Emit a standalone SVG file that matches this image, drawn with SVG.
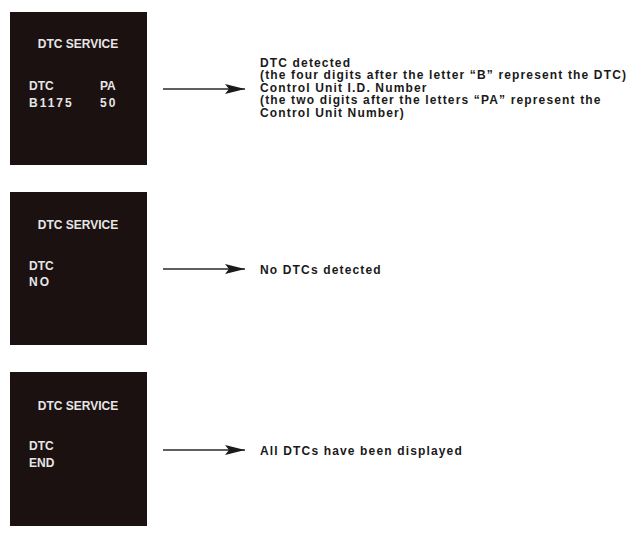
<svg xmlns="http://www.w3.org/2000/svg" width="633" height="547" viewBox="0 0 633 547">
<defs>
<style>
.box{fill:#1b1111}
.bt{font-family:"Liberation Sans",Arial,sans-serif;font-weight:bold;font-size:12px;fill:#e6e6e6}
.sp{letter-spacing:2px}
.lbl{font-family:"Liberation Sans",Arial,sans-serif;font-weight:bold;font-size:12px;letter-spacing:1.15px;fill:#1a1a1a}
.conn{stroke:#2a2a2a;stroke-width:1.5;fill:none}
</style>
<marker id="ah" viewBox="0 0 20 10" refX="20" refY="5" markerWidth="20" markerHeight="10" markerUnits="userSpaceOnUse" orient="auto">
<path d="M0,0 L20,5 L0,10 L4,5 Z" fill="#1a1a1a"/>
</marker>
</defs>
<rect width="633" height="547" fill="#ffffff"/>
<g id="screen1">
<rect class="box" x="10" y="12" width="137" height="153"/>
<text class="bt" x="78" y="48" text-anchor="middle">DTC SERVICE</text>
<text class="bt" x="29" y="90">DTC</text>
<text class="bt" x="100" y="90">PA</text>
<text class="bt sp" x="29" y="107">B1175</text>
<text class="bt sp" x="100" y="107">50</text>
</g>
<g id="screen2">
<rect class="box" x="10" y="192" width="137" height="153"/>
<text class="bt" x="78" y="229" text-anchor="middle">DTC SERVICE</text>
<text class="bt" x="29" y="270">DTC</text>
<text class="bt sp" x="29" y="286">NO</text>
</g>
<g id="screen3">
<rect class="box" x="10" y="372" width="137" height="154"/>
<text class="bt" x="78" y="410" text-anchor="middle">DTC SERVICE</text>
<text class="bt" x="29" y="450">DTC</text>
<text class="bt" x="29" y="467">END</text>
</g>
<g id="label1">
<text class="lbl" x="260" y="66.7">DTC detected</text>
<text class="lbl" x="260" y="79.2">(the four digits after the letter “B” represent the DTC)</text>
<text class="lbl" x="260" y="91.7">Control Unit I.D. Number</text>
<text class="lbl" x="260" y="104.2">(the two digits after the letters “PA” represent the</text>
<text class="lbl" x="260" y="116.7">Control Unit Number)</text>
</g>
<g id="label2">
<text class="lbl" x="260" y="274">No DTCs detected</text>
</g>
<g id="label3">
<text class="lbl" x="260" y="455">All DTCs have been displayed</text>
</g>
<g id="connectors">
<line class="conn" x1="163" y1="89" x2="245" y2="89" marker-end="url(#ah)"/>
<line class="conn" x1="163" y1="269" x2="245" y2="269" marker-end="url(#ah)"/>
<line class="conn" x1="163" y1="450" x2="245" y2="450" marker-end="url(#ah)"/>
</g>
</svg>
